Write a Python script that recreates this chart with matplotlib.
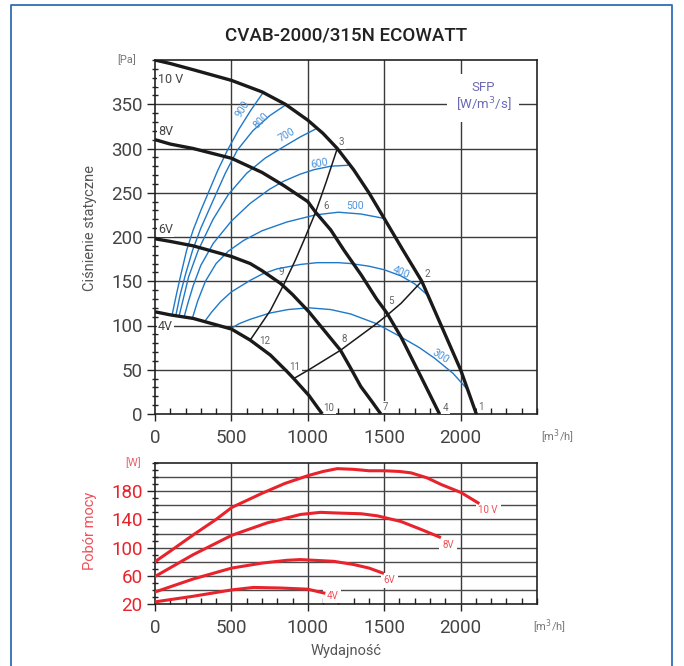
import matplotlib
matplotlib.use("Agg")
import matplotlib.pyplot as plt
from matplotlib.lines import Line2D
from matplotlib.ticker import MultipleLocator

plt.rcParams['font.family'] = ['Roboto', 'DejaVu Sans']

# fan curves (static pressure, Pa) for each control voltage
q_10v = [0, 100, 250, 500, 700, 853, 1000, 1100, 1193, 1300, 1400, 1500, 1620, 1746, 1873, 2000, 2103]
p_10v = [400, 396, 389, 377, 364, 350, 332, 317, 300, 276, 250, 221, 186, 150, 100, 50, 0]
q_8v = [0, 100, 250, 500, 700, 844, 1000, 1051, 1150, 1237, 1350, 1450, 1518, 1610, 1741, 1862]
p_8v = [310, 305, 300, 289, 273, 258, 240, 228, 208, 185, 157, 130, 114, 87, 42, 0]
q_6v = [0, 100, 250, 500, 623, 700, 822, 900, 1007, 1100, 1214, 1280, 1347, 1420, 1478]
p_6v = [198, 195, 190, 178, 170, 162, 147.5, 135, 115.5, 96, 72, 52, 31, 14, 0]
q_4v = [0, 100, 250, 500, 623, 755, 864, 908, 1007, 1095]
p_4v = [115.5, 112, 108, 96, 83.5, 66.6, 48, 40, 21, 0]

# system curves through the operating points
q_sys_a = [623, 755, 842, 919, 974, 1051, 1120, 1193]
p_sys_a = [83.5, 117, 146, 174, 196, 228, 262, 300]
q_sys_b = [908, 1007, 1214, 1434, 1522, 1610, 1746]
p_sys_b = [40, 50, 72, 100, 112, 125, 150]

# SFP iso-lines [W/m3/s]
sfp_names = ['900', '800', '700', '600', '500', '400', '300']
sfp_q = [
    [112, 140, 170, 207, 250, 300, 349, 410, 474, 550, 630, 711],
    [136, 165, 200, 246, 300, 390, 460, 538, 640, 750, 853],
    [158, 185, 220, 283, 380, 480, 600, 720, 842, 950, 1051],
    [191, 215, 250, 300, 382, 500, 623, 750, 842, 950, 1039, 1150, 1259],
    [246, 280, 330, 400, 480, 579, 700, 864, 1051, 1200, 1347, 1500],
    [327, 370, 430, 500, 623, 700, 799, 952, 1062, 1200, 1281, 1400, 1500, 1610, 1700, 1786],
    [491, 550, 623, 750, 870, 1007, 1150, 1281, 1450, 1610, 1730, 1830, 1950, 2049],
]
sfp_p = [
    [112, 135, 158, 185, 208, 230, 250, 275, 298, 322, 344, 364],
    [111, 135, 158, 185, 210, 245, 272, 298, 320, 337, 349],
    [111, 130, 155, 185, 220, 248, 272, 289, 302, 313, 322],
    [110, 125, 145, 168, 193, 218, 238, 254, 263, 271, 276, 280, 281],
    [109, 128, 150, 170, 184, 196, 207, 217, 225, 228, 226, 221],
    [105, 115, 127, 138, 151, 158, 164, 169, 171, 171, 170, 167, 163, 156, 147, 134],
    [96, 102, 107, 114, 118, 120, 118, 113, 102, 87, 75, 63, 46, 27],
]
sfp_lbl_pos = [(575, 345, 58), (693, 332, 47), (864, 315, 30), (1077, 283, 10),
               (1307, 235, 0), (1610, 160, -22), (1868, 65, -33)]

# operating point numbers
pt_names = ['1', '2', '3', '4', '5', '6', '7', '8', '9', '10', '11', '12']
pt_q = [2136, 1781, 1222, 1901, 1544, 1121, 1511, 1237, 825, 1138, 915, 717]
pt_p = [8, 158, 307, 7, 128, 235, 8, 85, 160, 7, 53, 83]

# power consumption [W]
w_q_10v = [0, 100, 250, 400, 503, 700, 850, 1000, 1100, 1193, 1300, 1400, 1500, 1600, 1676, 1780, 1873, 2004, 2114]
w_10v = [80, 95, 118, 140, 157, 177, 191, 202, 208, 212, 211, 209, 209, 208, 206, 199, 189.5, 178, 163.5]
w_q_8v = [0, 250, 503, 733, 952, 1083, 1200, 1350, 1456, 1610, 1750, 1862]
w_8v = [59, 90, 117.5, 135, 147, 150, 149, 148, 145, 137, 125, 115]
w_q_6v = [0, 250, 503, 700, 864, 952, 1171, 1300, 1400, 1489]
w_6v = [37, 55.5, 71, 78, 82, 83, 80.5, 76, 71, 64]
w_q_4v = [0, 250, 503, 645, 820, 1000, 1105]
w_4v = [23, 31, 40, 43.5, 42.7, 41, 35.6]

GRAY = '#555555'
BLUE = '#1f78c8'
RED = '#e8232b'

fig = plt.figure(figsize=(6.84, 6.66), dpi=100)
ax1 = fig.add_axes([155 / 684, 1 - 414 / 666, 382 / 684, 354 / 666])
ax2 = fig.add_axes([155 / 684, 1 - 604 / 666, 382 / 684, 141 / 666])

# ---- top chart
ax1.set_xlim(0, 2500)
ax1.set_ylim(0, 400)
ax1.set_xticks([0, 500, 1000, 1500, 2000])
ax1.set_yticks(range(0, 351, 50))
ax1.xaxis.set_minor_locator(MultipleLocator(100))
ax1.yaxis.set_minor_locator(MultipleLocator(10))
for v in [500, 1000, 1500, 2000]:
    ax1.axvline(v, color='#3a3a3a', lw=1, zorder=1)
for v in range(50, 351, 50):
    ax1.axhline(v, color='#3a3a3a', lw=1, zorder=1)

for q, p in [(q_10v, p_10v), (q_8v, p_8v), (q_6v, p_6v), (q_4v, p_4v)]:
    ax1.plot(q, p, color='#1a1a1a', lw=2.4, zorder=5, solid_capstyle='butt')
ax1.plot(q_sys_a, p_sys_a, color='#1a1a1a', lw=1.1, zorder=5)
ax1.plot(q_sys_b, p_sys_b, color='#1a1a1a', lw=1.1, zorder=5)

for i in range(len(sfp_names)):
    ax1.plot(sfp_q[i], sfp_p[i], color=BLUE, lw=1.0, zorder=4)
    x, y, r = sfp_lbl_pos[i]
    ax1.text(x, y, sfp_names[i], color='#4a94dc', fontsize=7.5, rotation=r,
             ha='center', va='center', zorder=6)

for i in range(len(pt_names)):
    ax1.text(pt_q[i], pt_p[i], pt_names[i], color='#666666', fontsize=7,
             ha='center', va='center', zorder=3,
             bbox=dict(facecolor='white', edgecolor='none', pad=1))

volt_txt = [('10 V', 378), ('8V', 319), ('6V', 209), ('4V', 99)]
for t, y in volt_txt:
    ax1.text(20, y, t, color='#444444', fontsize=9, ha='left', va='center', zorder=3,
             bbox=dict(facecolor='white', edgecolor='none', pad=1))

ax1.text(2149, 358, 'SFP\n[W/m$^3$/s]', color='#6a6ab4', fontsize=9.5, ha='center',
         va='center', linespacing=1.1, zorder=3,
         bbox=dict(facecolor='white', edgecolor='none', pad=6))

ax1.text(-0.073, 1.0, '[Pa]', transform=ax1.transAxes, color='#777777', fontsize=8,
         ha='center', va='center')
ax1.text(1.01, -0.065, '[m$^3$/h]', transform=ax1.transAxes, color='#777777', fontsize=8,
         ha='left', va='center')
ax1.set_ylabel('Ciśnienie statyczne', color=GRAY, fontsize=10.5)
ax1.yaxis.set_label_coords(-0.152, 0.525)
ax1.set_title('CVAB-2000/315N ECOWATT', fontsize=13.5, fontweight='medium',
              color='#222222', pad=14)

# ---- bottom chart
ax2.set_xlim(0, 2500)
ax2.set_ylim(20, 220)
ax2.set_xticks([0, 500, 1000, 1500, 2000])
ax2.set_yticks([20, 60, 100, 140, 180])
ax2.xaxis.set_minor_locator(MultipleLocator(100))
ax2.yaxis.set_minor_locator(MultipleLocator(10))
for v in [500, 1000, 1500, 2000]:
    ax2.axvline(v, color='#3a3a3a', lw=1, zorder=1)
for v in range(40, 201, 20):
    ax2.axhline(v, color='#4a4a4a', lw=1, zorder=1)

for q, w in [(w_q_10v, w_10v), (w_q_8v, w_8v), (w_q_6v, w_6v), (w_q_4v, w_4v)]:
    ax2.plot(q, w, color=RED, lw=2.2, zorder=5)

w_lbl = [('10 V', 2180, 153), ('8V', 1917, 104), ('6V', 1533, 53.5), ('4V', 1160, 32)]
for t, x, y in w_lbl:
    ax2.text(x, y, t, color='#f0505a', fontsize=7, ha='center', va='center', zorder=3,
             bbox=dict(facecolor='white', edgecolor='none', pad=2))

ax2.text(-0.058, 1.0, '[W]', transform=ax2.transAxes, color='#f06068', fontsize=8,
         ha='center', va='center')
ax2.text(0.99, -0.16, '[m$^3$/h]', transform=ax2.transAxes, color='#777777', fontsize=8,
         ha='left', va='center')
ax2.set_ylabel('Pobór mocy', color='#f0505a', fontsize=10.5)
ax2.yaxis.set_label_coords(-0.152, 0.52)
ax2.set_xlabel('Wydajność', color=GRAY, fontsize=10.5, labelpad=5)

for ax in [ax1, ax2]:
    for s in ax.spines.values():
        s.set_color('#222222')
        s.set_linewidth(1.2)
    ax.tick_params(axis='x', which='major', direction='out', length=5, width=1,
                   color='#222222', labelsize=13.5, labelcolor='#444444', pad=6)
    ax.tick_params(axis='x', which='minor', direction='in', length=4, width=1,
                   color='#222222')
    ax.tick_params(axis='y', which='major', direction='out', length=6, width=1,
                   color='#222222', labelsize=13.5, labelcolor='#444444', pad=3)
    ax.tick_params(axis='y', which='minor', direction='inout', length=5, width=1,
                   color='#222222')
ax2.tick_params(axis='y', which='major', labelcolor=RED)

# outer frame
fig.add_artist(Line2D([11 / 684, 11 / 684, 672 / 684, 672 / 684],
                      [0, 1 - 5 / 666, 1 - 5 / 666, 0],
                      transform=fig.transFigure, color='#2f6db5', lw=1.3))

fig.savefig('out.png', dpi=100)
